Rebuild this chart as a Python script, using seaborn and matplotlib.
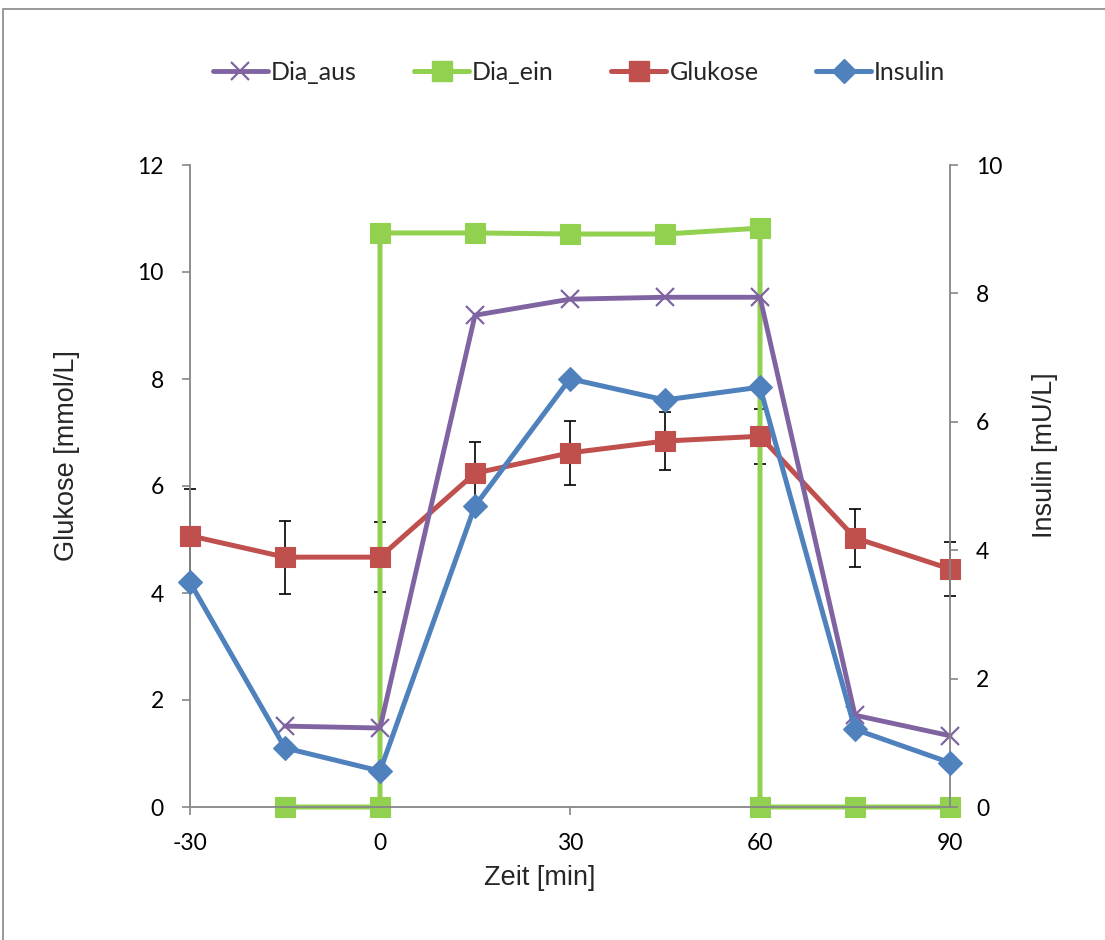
import matplotlib
matplotlib.use("Agg")
import matplotlib.pyplot as plt
from matplotlib.lines import Line2D
from matplotlib.patches import Rectangle
import seaborn as sns
import numpy as np

# ---- data ----
zeit = [-30, -15, 0, 15, 30, 45, 60, 75, 90]
glukose = [5.07, 4.67, 4.67, 6.24, 6.62, 6.84, 6.93, 5.03, 4.45]
glukose_err = [0.87, 0.68, 0.65, 0.58, 0.60, 0.54, 0.51, 0.54, 0.50]
insulin = [3.50, 0.92, 0.56, 4.69, 6.67, 6.34, 6.54, 1.21, 0.69]
dia_aus_x = [-15, 0, 15, 30, 45, 60, 75, 90]
dia_aus = [1.26, 1.23, 7.66, 7.91, 7.94, 7.94, 1.43, 1.11]          # right axis units
dia_ein_x = [-15, 0, 0, 15, 30, 45, 60, 60, 75, 90]
dia_ein = [0, 0, 10.73, 10.73, 10.71, 10.71, 10.82, 0, 0, 0]        # left axis units
x_ticks = [-30, 0, 30, 60, 90]
y_left_ticks = [0, 2, 4, 6, 8, 10, 12]
y_right_ticks = [0, 2, 4, 6, 8, 10]

c_aus = "#8064A2"
c_ein = "#92D050"
c_glu = "#C0504D"
c_ins = "#4F81BD"
gray = "#868686"

sns.set_style("white")
plt.rcParams['font.family'] = ['Lato', 'DejaVu Sans']

fig = plt.figure(figsize=(11.05, 9.4), dpi=100)
ax = fig.add_axes([190/1105, 1-807/940, 760/1105, 642/940])
ax2 = ax.twinx()

# primary axis
ax.errorbar(zeit, glukose, yerr=glukose_err, fmt='none', ecolor='black',
            elinewidth=1.2, capsize=4.3, capthick=1.2, zorder=1.5, clip_on=False)
sns.lineplot(x=dia_ein_x, y=dia_ein, ax=ax, estimator=None, sort=False,
             color=c_ein, lw=3.6, marker='s', markersize=14, markeredgecolor=c_ein,
             markeredgewidth=0.8, zorder=2, clip_on=False, legend=False)
sns.lineplot(x=zeit, y=glukose, ax=ax, estimator=None, sort=False,
             color=c_glu, lw=3.6, marker='s', markersize=14.4, markeredgecolor=c_glu,
             markeredgewidth=0.8, zorder=3, clip_on=False, legend=False)

# secondary axis
sns.lineplot(x=dia_aus_x, y=dia_aus, ax=ax2, estimator=None, sort=False,
             color=c_aus, lw=3.5, marker='x', markersize=13, markeredgecolor=c_aus,
             markeredgewidth=1.6, zorder=2, clip_on=False, legend=False)
sns.lineplot(x=zeit, y=insulin, ax=ax2, estimator=None, sort=False,
             color=c_ins, lw=3.6, marker='D', markersize=12.5, markeredgecolor=c_ins,
             markeredgewidth=0.8, zorder=3, clip_on=False, legend=False)

ax.set_xlim(-30, 90)
ax.set_ylim(0, 12)
ax2.set_ylim(0, 10)
ax.set_xticks(x_ticks)
ax.set_yticks(y_left_ticks)
ax2.set_yticks(y_right_ticks)
ax.set_xticklabels([str(v) for v in x_ticks])
ax.set_yticklabels([str(v) for v in y_left_ticks])
ax2.set_yticklabels([str(v) for v in y_right_ticks])

for a in (ax, ax2):
    for s in a.spines.values():
        s.set_visible(False)
    a.grid(False)
ax.spines['left'].set_visible(True)
ax.spines['bottom'].set_visible(True)
ax2.spines['right'].set_visible(True)
for s in (ax.spines['left'], ax.spines['bottom'], ax2.spines['right']):
    s.set_color(gray)
    s.set_linewidth(1.3)

ax.tick_params(axis='both', direction='out', length=5.8, width=1.2, color=gray,
               labelsize=16.5, labelcolor='black', pad=13)
ax.tick_params(axis='x', bottom=True, left=False)
ax.tick_params(axis='y', left=True)
ax2.tick_params(axis='y', direction='out', length=5.8, width=1.2, color=gray,
                labelsize=16.5, labelcolor='black', pad=13, right=True)

lab_font = dict(family='Liberation Sans', size=19.5)
ax.set_xlabel("Zeit [min]", fontdict=lab_font)
ax.set_ylabel("Glukose [mmol/L]", fontdict=lab_font)
ax2.set_ylabel("Insulin [mU/L]", fontdict=lab_font)
ax.xaxis.set_label_coords(0.46, -0.09)
ax.yaxis.set_label_coords(-0.145, 0.548)
ax2.yaxis.set_label_coords(1.108, 0.548)

handles = [
    Line2D([], [], color=c_aus, lw=3.5, marker='x', markersize=13, markeredgewidth=1.6),
    Line2D([], [], color=c_ein, lw=3.6, marker='s', markersize=14),
    Line2D([], [], color=c_glu, lw=3.6, marker='s', markersize=14.4),
    Line2D([], [], color=c_ins, lw=3.6, marker='D', markersize=12.5),
]
labels = ["Dia_aus", "Dia_ein", "Glukose", "Insulin"]
fig.legend(handles, labels, loc='center', bbox_to_anchor=(0.524, 0.923), ncol=4,
           frameon=False, fontsize=18, handlelength=2.2, handletextpad=0.12,
           columnspacing=2.3)

fig.patches.append(Rectangle((3/1105, -0.1), 1.2, 0.1 + 1 - 9.5/940,
                             transform=fig.transFigure, fill=False,
                             edgecolor='#888888', lw=1.2))

fig.savefig("out.png", dpi=100, facecolor='white')
